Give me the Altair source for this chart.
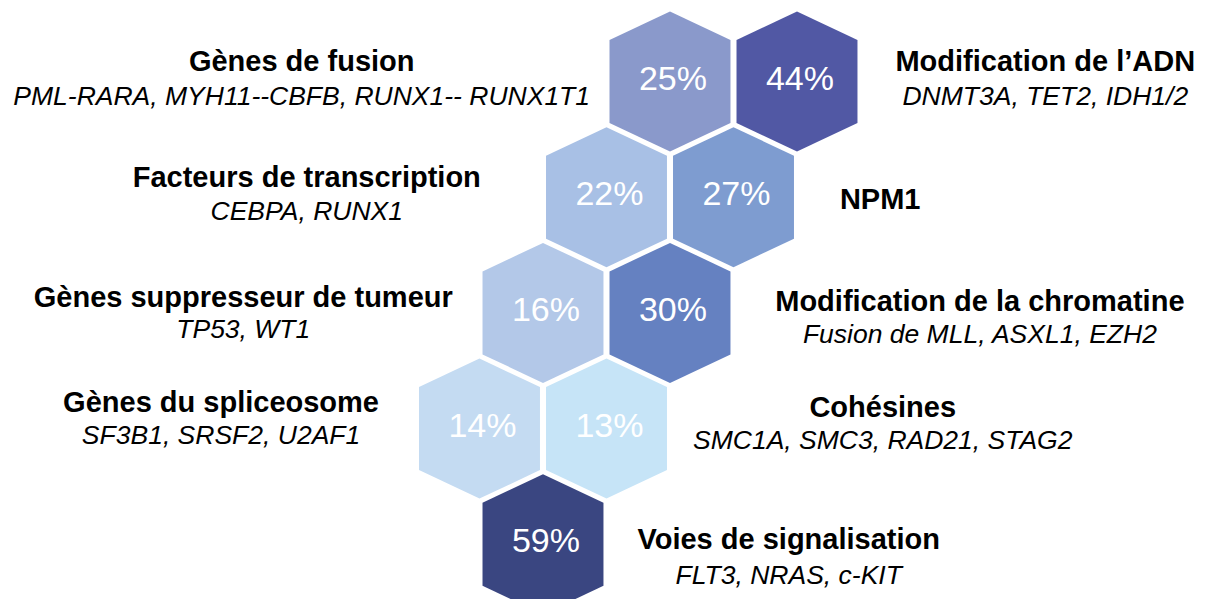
import altair as alt
import pandas as pd

# ---- data ----
pcts = [25, 44, 22, 27, 16, 30, 14, 13, 59]
categories = [
    "Gènes de fusion", "Modification de l’ADN", "Facteurs de transcription", "NPM1",
    "Gènes suppresseur de tumeur", "Modification de la chromatine",
    "Gènes du spliceosome", "Cohésines", "Voies de signalisation",
]
genes = [
    "PML-RARA, MYH11--CBFB, RUNX1-- RUNX1T1", "DNMT3A, TET2, IDH1/2", "CEBPA, RUNX1", "",
    "TP53, WT1", "Fusion de MLL, ASXL1, EZH2", "SF3B1, SRSF2, U2AF1",
    "SMC1A, SMC3, RAD21, STAG2", "FLT3, NRAS, c-KIT",
]
colors = ["#8A99CB", "#5158A4", "#A8C0E5", "#7E9CD0", "#B3C8E8", "#6581C1", "#C4DBF2", "#C6E4F7", "#3A4681"]

# honeycomb lattice (row, half-column)
hex_row = [1, 1, 2, 2, 3, 3, 4, 4, 5]
hex_col = [4, 6, 3, 5, 2, 4, 1, 3, 2]

# label layout in lattice units
label_col = [-1.80, 9.91, -1.72, 7.31, -2.72, 8.88, -3.07, 7.35, 5.87]
title_row = [0.83, 0.83, 1.83, 2.02, 2.87, 2.91, 3.78, 3.82, 4.96]
sub_row = [1.13, 1.13, 2.13, 2.02, 3.15, 3.19, 4.06, 4.11, 5.27]

hexes = pd.DataFrame({
    "pct": [f"{p}%" for p in pcts],
    "cat": categories,
    "color": colors,
    "row": hex_row,
    "col": hex_col,
})
labels = pd.DataFrame({
    "title": categories,
    "sub": genes,
    "col": label_col,
    "trow": title_row,
    "srow": sub_row,
})

HEX = "M0,-1L0.864,-0.593L0.864,0.593L0,1L-0.864,0.593L-0.864,-0.593Z"

xs = alt.Scale(domain=[-6.425, 12.315], nice=False, zero=False)
ys = alt.Scale(domain=[0.3647, 5.4728], nice=False, zero=False, reverse=True)

X = lambda f: alt.X(f, type="quantitative", scale=xs, axis=None)
Y = lambda f: alt.Y(f, type="quantitative", scale=ys, axis=None)

hex_layer = alt.Chart(hexes).mark_point(
    shape=HEX, size=19600, filled=True, opacity=1, strokeWidth=0
).encode(
    x=X("col"), y=Y("row"),
    color=alt.Color("color:N", scale=None),
)

pct_layer = alt.Chart(hexes).mark_text(
    font="Liberation Sans", fontSize=34, color="white", baseline="middle", align="center", dy=-2, dx=3
).encode(x=X("col"), y=Y("row"), text="pct:N")

title_layer = alt.Chart(labels).mark_text(
    font="Liberation Sans", fontSize=29, fontWeight="bold", color="#000000",
    baseline="middle", align="center"
).encode(x=X("col"), y=Y("trow"), text="title:N")

sub_layer = alt.Chart(labels).mark_text(
    font="Liberation Sans", fontSize=26.5, fontStyle="italic", color="#000000",
    baseline="middle", align="center"
).encode(x=X("col"), y=Y("srow"), text="sub:N")

chart = alt.layer(hex_layer, pct_layer, title_layer, sub_layer).properties(
    width=1190, height=591,
    autosize=alt.AutoSizeParams(type="none"),
    padding=0,
    background="white",
).configure_view(stroke=None)

chart.save("out.html", embed_options={"renderer": "svg", "actions": False})
